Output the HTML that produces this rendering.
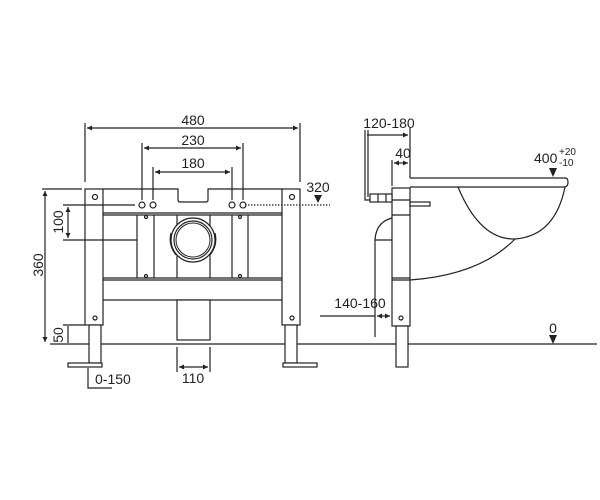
<!DOCTYPE html>
<html><head><meta charset="utf-8"><style>
html,body{margin:0;padding:0;background:#fff;}
svg{display:block}
text{font-family:"Liberation Sans",Arial,sans-serif;font-size:14px;fill:#222}
</style></head><body>
<svg width="600" height="500" viewBox="0 0 600 500" xmlns="http://www.w3.org/2000/svg">
<defs>
<marker id="a" viewBox="0 0 10 10" refX="10" refY="5" markerWidth="8" markerHeight="5" orient="auto-start-reverse" markerUnits="userSpaceOnUse"><path d="M0,0 L10,5 L0,10 z" fill="#222"/></marker>
</defs>
<g stroke="#222" stroke-width="1.2" fill="none">
<line x1="50" y1="344" x2="597" y2="344"/>
<rect x="85" y="189" width="18" height="136" fill="#fff"/>
<rect x="282" y="189" width="18" height="136" fill="#fff"/>
<path d="M103,189 H178 V200 Q178,202 180,202 H206 Q208,202 208,200 V189 H282" />
<line x1="103" y1="213" x2="282" y2="213"/>
<line x1="103" y1="215" x2="282" y2="215"/>
<line x1="103" y1="278" x2="282" y2="278"/>
<line x1="103" y1="280" x2="282" y2="280"/>
<line x1="103" y1="300" x2="282" y2="300"/>
<line x1="137" y1="215" x2="137" y2="278"/>
<line x1="154" y1="215" x2="154" y2="278"/>
<line x1="232" y1="215" x2="232" y2="278"/>
<line x1="248" y1="215" x2="248" y2="278"/>
<line x1="177" y1="215" x2="177" y2="278"/>
<line x1="210" y1="215" x2="210" y2="278"/>
<rect x="177" y="300" width="33" height="40" fill="#fff"/>
<circle cx="193" cy="240" r="22" fill="#fff"/>
<circle cx="193" cy="240" r="19"/>
<circle cx="193" cy="240" r="17" stroke-width="1"/>
<path d="M171,233 Q168,245 176,255 M215,233 Q218,245 210,255"/>
<circle cx="95" cy="197" r="2.5"/><circle cx="292" cy="197" r="2.5"/>
<circle cx="95" cy="318" r="2"/><circle cx="292" cy="318" r="2"/>
<circle cx="142" cy="205" r="3"/><circle cx="153" cy="205" r="3"/>
<circle cx="232" cy="205" r="3"/><circle cx="243" cy="205" r="3"/>
<circle cx="146" cy="217" r="1.5"/><circle cx="240" cy="217" r="1.5"/>
<circle cx="146" cy="276" r="1.5"/><circle cx="240" cy="276" r="1.5"/>
<rect x="89" y="325" width="12" height="38" fill="#fff"/>
<rect x="285" y="325" width="12" height="38" fill="#fff"/>
<rect x="68" y="363" width="34" height="4" fill="#fff"/>
<rect x="283" y="363" width="34" height="4" fill="#fff"/>
<line x1="85" y1="123" x2="85" y2="182"/>
<line x1="300" y1="123" x2="300" y2="182"/>
<line x1="87" y1="128" x2="298" y2="128" marker-start="url(#a)" marker-end="url(#a)"/>
<line x1="142" y1="143" x2="142" y2="200"/>
<line x1="243" y1="143" x2="243" y2="200"/>
<line x1="144" y1="148" x2="241" y2="148" marker-start="url(#a)" marker-end="url(#a)"/>
<line x1="153" y1="167" x2="153" y2="200"/>
<line x1="232" y1="167" x2="232" y2="200"/>
<line x1="155" y1="172" x2="230" y2="172" marker-start="url(#a)" marker-end="url(#a)"/>
<line x1="42" y1="189" x2="82" y2="189"/>
<line x1="45" y1="191" x2="45" y2="342" marker-start="url(#a)" marker-end="url(#a)"/>
<line x1="63" y1="205" x2="135" y2="205"/>
<line x1="63" y1="240" x2="137" y2="240"/>
<line x1="68" y1="207" x2="68" y2="238" marker-start="url(#a)" marker-end="url(#a)"/>
<line x1="63" y1="325" x2="85" y2="325"/>
<line x1="68" y1="326" x2="68" y2="343"/>
<line x1="245" y1="205" x2="330" y2="205" stroke-dasharray="1.5,1.5"/>
<polyline points="88,368 88,388 112,388"/>
<line x1="177" y1="347" x2="177" y2="372"/>
<line x1="210" y1="347" x2="210" y2="372"/>
<line x1="179" y1="367" x2="208" y2="367" marker-start="url(#a)" marker-end="url(#a)"/>
<path d="M410,178 H565 Q568,178 568,182 Q568,187 564,187 H410"/>
<path d="M458,187 Q480,240 515,239 Q555,236 565,187"/>
<path d="M410,280 Q480,275 515,239"/>
<rect x="392" y="188" width="18" height="138" fill="#fff"/>
<line x1="392" y1="200" x2="410" y2="200"/>
<line x1="392" y1="215" x2="410" y2="215"/>
<line x1="392" y1="278" x2="410" y2="278"/>
<line x1="392" y1="280" x2="410" y2="280"/>
<circle cx="401" cy="318" r="2"/>
<rect x="396" y="326" width="12" height="41" fill="#fff"/>
<path d="M365,130 V200 H370 V197 M368,130 V197"/>
<rect x="370" y="194" width="22" height="8" fill="#fff"/>
<line x1="378" y1="194" x2="378" y2="202"/><line x1="386" y1="194" x2="386" y2="202"/>
<rect x="410" y="202" width="20" height="4" fill="#fff"/>
<path d="M392,218 Q376,222 375,240 V337"/>
<line x1="375" y1="240" x2="392" y2="240"/>
<line x1="410" y1="128" x2="410" y2="178"/>
<line x1="392" y1="160" x2="392" y2="186"/>
<line x1="367" y1="135" x2="408" y2="135" marker-end="url(#a)"/>
<line x1="394" y1="163" x2="408" y2="163" marker-start="url(#a)" marker-end="url(#a)"/>
<line x1="320" y1="316" x2="375" y2="316"/>
<line x1="377" y1="316" x2="390" y2="316" marker-start="url(#a)" marker-end="url(#a)"/>
</g>
<g fill="#222">
<polygon points="314,195 322,195 318,203"/>
<polygon points="549,168 557,168 553,177"/>
<polygon points="549,335 557,335 553,344"/>
</g>
<text x="193" y="125" text-anchor="middle">480</text>
<text x="193" y="145" text-anchor="middle">230</text>
<text x="193" y="168" text-anchor="middle">180</text>
<text x="318" y="192" text-anchor="middle">320</text>
<text x="193" y="383" text-anchor="middle">110</text>
<text x="95" y="384">0-150</text>
<text transform="translate(43,265) rotate(-90)" text-anchor="middle">360</text>
<text transform="translate(63,222) rotate(-90)" text-anchor="middle">100</text>
<text transform="translate(63,335) rotate(-90)" text-anchor="middle">50</text>
<text x="389" y="128" text-anchor="middle">120-180</text>
<text x="403" y="158" text-anchor="middle">40</text>
<text x="360" y="308" text-anchor="middle">140-160</text>
<text x="553" y="333" text-anchor="middle">0</text>
<text x="534" y="163">400</text>
<text x="559" y="155" style="font-size:10px">+20</text>
<text x="559" y="166" style="font-size:10px">-10</text>
</svg>
</body></html>
